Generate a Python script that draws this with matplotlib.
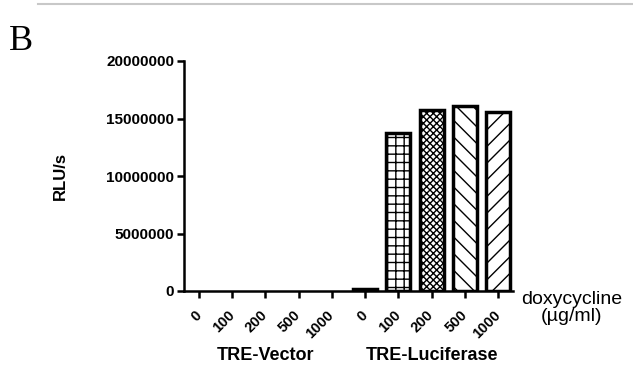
import numpy as np
import matplotlib.pyplot as plt
import matplotlib as mpl
from matplotlib.transforms import ScaledTranslation

# Luciferase reporter readout, TRE-Vector vs TRE-Luciferase
doses = ['0', '100', '200', '500', '1000']
groups = ['TRE-Vector', 'TRE-Luciferase']
vector_rlu = [0, 0, 0, 0, 0]
luciferase_rlu = [150000, 13700000, 15700000, 16050000, 15600000]
yticks = [0, 5000000, 10000000, 15000000, 20000000]

mpl.rcParams['font.family'] = ['Liberation Sans', 'DejaVu Sans']
mpl.rcParams['hatch.linewidth'] = 1.0

fig = plt.figure(figsize=(6.33, 3.86), dpi=100)
ax = fig.add_axes([184/633, (386-291)/386, (513-184)/633, (291-61)/386])

values = vector_rlu + luciferase_rlu
x = np.arange(len(values))
hatches = [''] * 5 + ['', '++', 'xxxxx', '\\\\', '//']
for xi, v, h in zip(x, values, hatches):
    # empty bars sit on the axis line, so give them no outline
    lw = 2.5 if v > 0 else 0
    ax.bar(xi, v, width=0.72, facecolor='white', edgecolor='black',
           linewidth=lw, hatch=h)

ax.set_xlim(-0.45, 9.45)
ax.set_ylim(0, 20000000)
ax.set_yticks(yticks)
ax.set_yticklabels([str(t) for t in yticks], fontsize=11, fontweight='bold')
ax.set_xticks(x)
ax.set_xticklabels(doses + doses, rotation=45, fontsize=10.5,
                   fontweight='bold')
shift = ScaledTranslation(4/100, 0, fig.dpi_scale_trans)
for lab in ax.get_xticklabels():
    lab.set_rotation_mode('anchor')
    lab.set_ha('right')
    lab.set_va('center')
    lab.set_transform(lab.get_transform() + shift)
ax.tick_params(axis='x', length=5, width=1.8, pad=11)
ax.tick_params(axis='y', length=5, width=1.8, pad=2)

for s in ['top', 'right']:
    ax.spines[s].set_visible(False)
for s in ['left', 'bottom']:
    ax.spines[s].set_linewidth(1.8)

fig.text(60/633, 1 - 176/386, 'RLU/s', rotation=90, fontsize=12,
         fontweight='bold', ha='center', va='center')

# group names under each set of doses
for gi, g in enumerate(groups):
    ax.text(2 + 5*gi, -0.28, g, transform=ax.get_xaxis_transform(),
            ha='center', va='center', fontsize=13, fontweight='bold')

fig.text(572/633, 1 - 308/386, 'doxycycline\n(\u00b5g/ml)', ha='center',
         va='center', fontsize=14, linespacing=1.05)

fig.text(21/633, 1 - 42/386, 'B', fontsize=26, family='Liberation Serif',
         ha='center', va='center')
fig.add_artist(plt.Line2D([38/633, 1], [1 - 4/386, 1 - 4/386],
                          color='#c8c8c8', linewidth=1.5))

fig.savefig('out.png', dpi=100)
